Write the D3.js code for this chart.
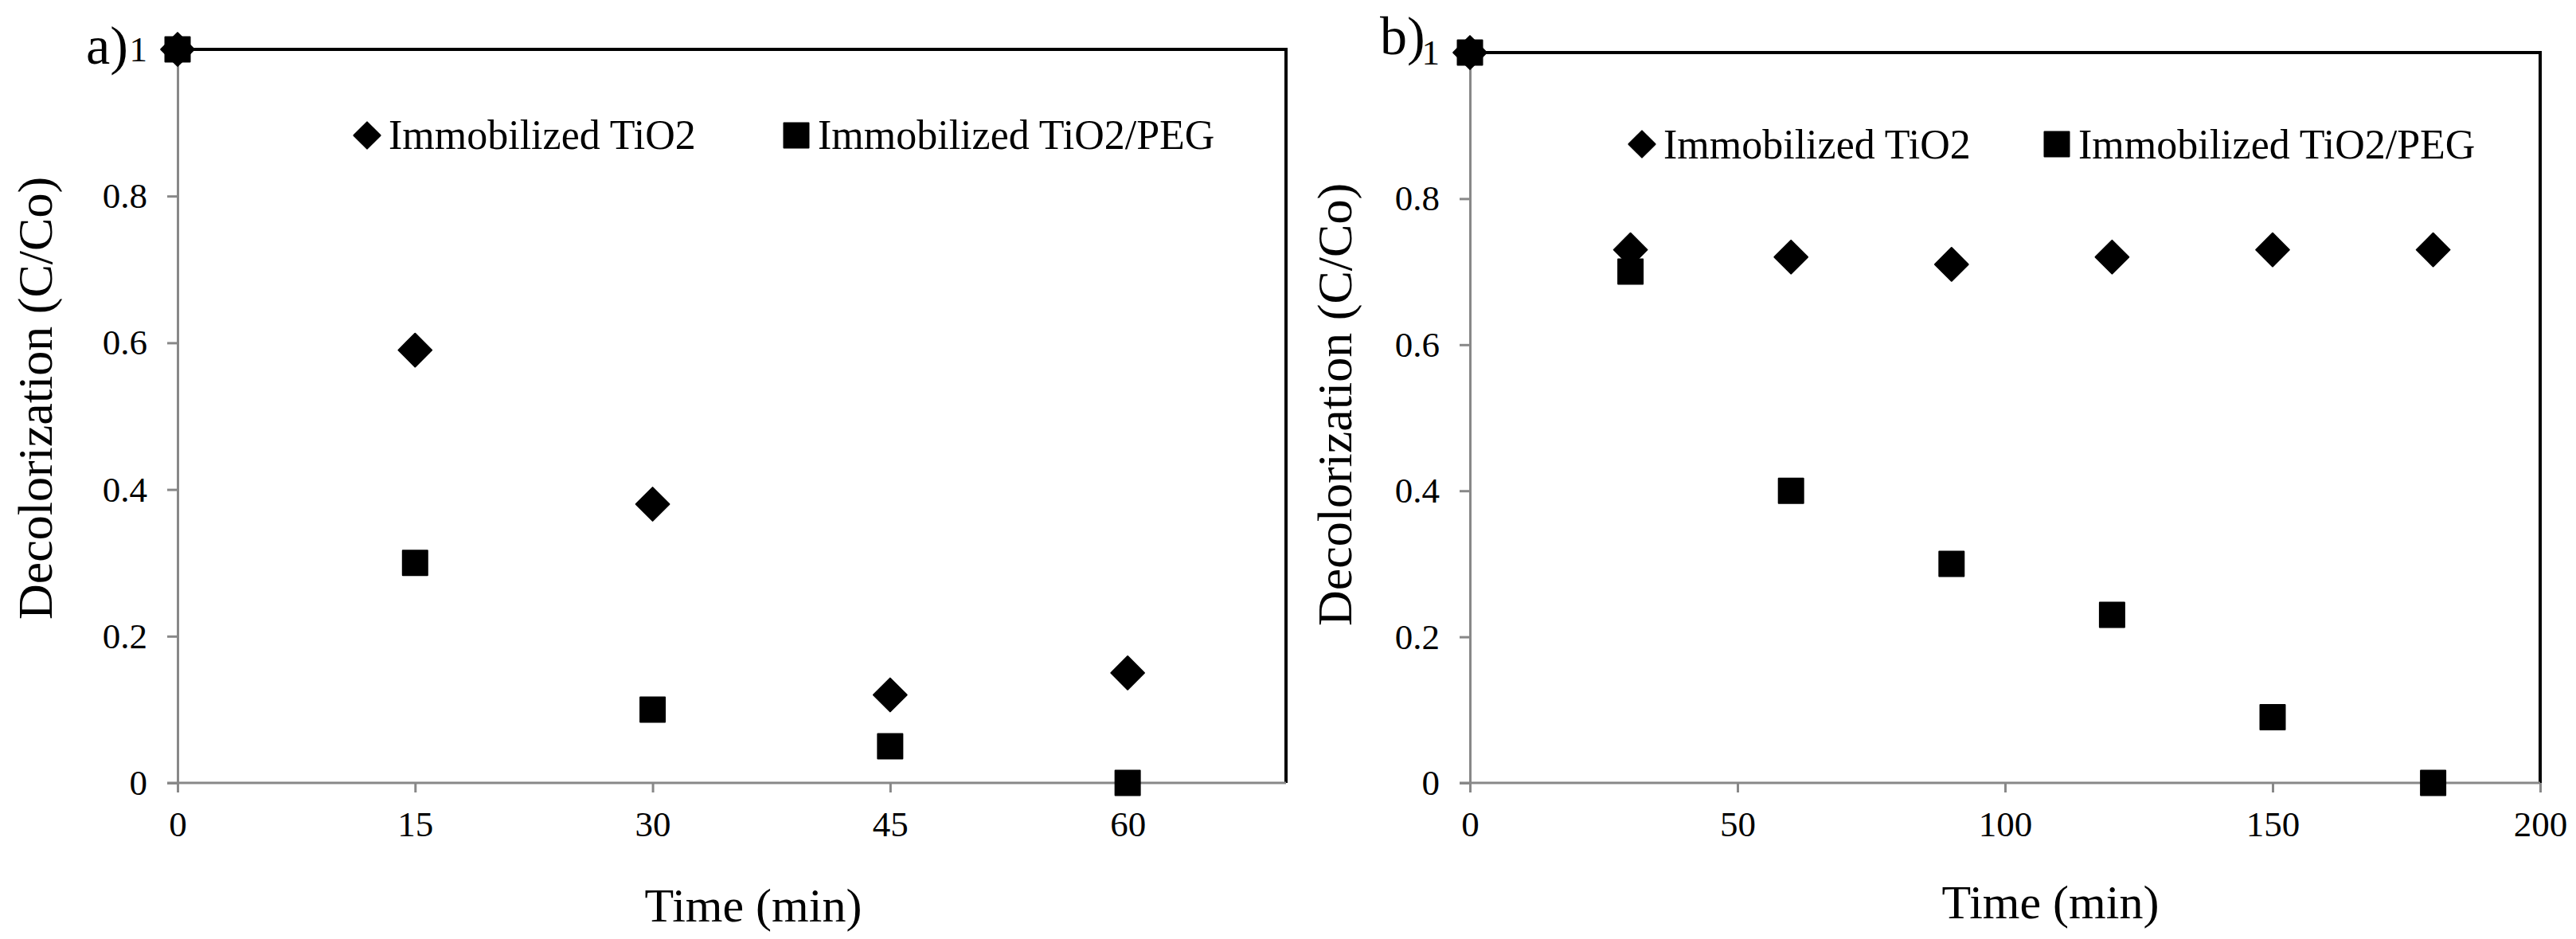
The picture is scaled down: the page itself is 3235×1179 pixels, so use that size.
<!DOCTYPE html>
<html>
<head>
<meta charset="utf-8">
<script src="https://cdn.jsdelivr.net/npm/d3@7"></script>
<style>
	body { margin: 0; background: #fff; }
	svg { display: block; }
	svg text { font-family: 'Liberation Serif', 'Times New Roman', Times, serif; }
</style>
</head>
<body>
<script>
// values
const seriesNames = ['Immobilized TiO2', 'Immobilized TiO2/PEG']

const timeA = [0, 15, 30, 45, 60]
const tio2A = [1, 0.59, 0.38, 0.12, 0.15]
const pegA = [1, 0.30, 0.10, 0.05, 0]

const timeB = [0, 30, 60, 90, 120, 150, 180]
const tio2B = [1, 0.73, 0.72, 0.71, 0.72, 0.73, 0.73]
const pegB = [1, 0.70, 0.40, 0.30, 0.23, 0.09, 0]

const yTicks = [0, 0.2, 0.4, 0.6, 0.8, 1]
const xTicksA = [0, 15, 30, 45, 60]
const xTicksB = [0, 50, 100, 150, 200]

const axisGrey = '#888'
const serif = "'Liberation Serif', 'Times New Roman', Times, serif"

const panels = [
	{
		label: 'a)', time: timeA, series: [tio2A, pegA], xMax: 70, xTicks: xTicksA,
		left: 223, right: 1615, top: 62, bottom: 983,
		labelPos: [108, 80], yTitle: [65, 500], xTitle: [946, 1157],
		legend: { y: 170, base: 187, items: [461, 1000] }
	},
	{
		label: 'b)', time: timeB, series: [tio2B, pegB], xMax: 200, xTicks: xTicksB,
		left: 1846, right: 3190, top: 66, bottom: 983,
		labelPos: [1733, 68], yTitle: [1697, 508], xTitle: [2575, 1153],
		legend: { y: 181, base: 199, items: [2062, 2583] }
	}
]

const svg = d3.select('body').append('svg')
	.attr('width', 3235)
	.attr('height', 1179)
	.attr('font-family', serif)

// diamond = rotated square, the way the spreadsheet draws it
function marker(sel, kind, side) {
	sel.attr('d', d3.symbol().type(d3.symbolSquare).size(side * side)())
		.attr('fill', '#000')
		.attr('stroke', '#000')
		.attr('stroke-width', 2)
		.attr('stroke-linejoin', 'round')
	if (kind === 0) sel.attr('transform', function () {
		return d3.select(this).attr('transform') + ' rotate(45)'
	})
}

panels.forEach(p => {
	const x = d3.scaleLinear().domain([0, p.xMax]).range([p.left, p.right])
	const y = d3.scaleLinear().domain([0, 1]).range([p.bottom, p.top])
	const g = svg.append('g')

	// black frame on top and right
	g.append('path')
		.attr('d', `M${x(0)},${y(1)}H${x(p.xMax)}V${y(0)}`)
		.attr('fill', 'none')
		.attr('stroke', '#000')
		.attr('stroke-width', 4)

	const yAxis = g.append('g')
		.attr('transform', `translate(${x(0)},0)`)
		.call(d3.axisLeft(y).tickValues(yTicks).tickSize(13).tickSizeOuter(0).tickPadding(25).tickFormat(d => String(d)))
	const xAxis = g.append('g')
		.attr('transform', `translate(0,${y(0)})`)
		.call(d3.axisBottom(x).tickValues(p.xTicks).tickSize(12).tickSizeOuter(0).tickPadding(23))

	;[yAxis, xAxis].forEach(a => {
		a.attr('font-family', serif).attr('font-size', 45)
		a.select('.domain').attr('stroke', axisGrey).attr('stroke-width', 3)
		a.selectAll('.tick line').attr('stroke', axisGrey).attr('stroke-width', 3)
		a.selectAll('.tick text')
			.attr('fill', '#000')
			.attr('font-family', serif)
			.attr('font-size', 45)
	})
	// left axis line runs a little past the bottom axis
	xAxis.select('.domain').attr('d', `M${x(0) - 13},0H${x(p.xMax)}`)

	// points
	p.series.forEach((vals, k) => {
		g.append('g').selectAll('path')
			.data(vals.map((v, i) => [p.time[i], v]))
			.join('path')
			.attr('transform', d => `translate(${x(d[0])},${y(d[1])})`)
			.call(marker, k, k === 0 ? 29.5 : 31)
	})

	// legend
	p.legend.items.forEach((cx, k) => {
		g.append('path')
			.attr('transform', `translate(${cx},${p.legend.y})`)
			.call(marker, k, k === 0 ? 23.5 : 31)
		g.append('text')
			.attr('x', cx + 27)
			.attr('y', p.legend.base)
			.attr('font-family', serif)
			.attr('font-size', 52)
			.text(seriesNames[k])
	})

	g.append('text')
		.attr('x', p.labelPos[0])
		.attr('y', p.labelPos[1])
		.attr('font-family', serif)
		.attr('font-size', 68)
		.text(p.label)

	g.append('text')
		.attr('transform', `translate(${p.yTitle[0]},${p.yTitle[1]}) rotate(-90)`)
		.attr('text-anchor', 'middle')
		.attr('font-family', serif)
		.attr('font-size', 62)
		.text('Decolorization (C/Co)')

	g.append('text')
		.attr('x', p.xTitle[0])
		.attr('y', p.xTitle[1])
		.attr('text-anchor', 'middle')
		.attr('font-family', serif)
		.attr('font-size', 60)
		.text('Time (min)')
})
</script>
</body>
</html>
